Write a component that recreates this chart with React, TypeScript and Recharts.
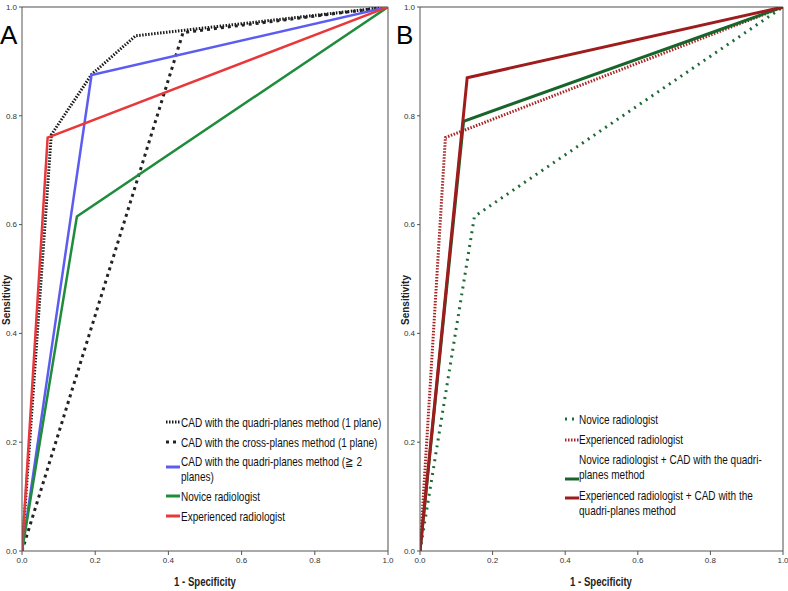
import { LineChart, Line, XAxis, YAxis, ReferenceLine } from 'recharts';

// axis ticks shared by both panels
const ticks = [0, 0.2, 0.4, 0.6, 0.8, 1];

// Panel A: ROC points (1 - specificity, sensitivity)
const quadri1X = [0, 0.08, 0.19, 0.31, 1];
const quadri1Y = [0, 0.765, 0.876, 0.947, 1];
const crossX = [0, 0.44, 1];
const crossY = [0, 0.953, 1];
const quadri2X = [0, 0.19, 1];
const quadri2Y = [0, 0.875, 1];
const noviceX = [0, 0.15, 1];
const noviceY = [0, 0.615, 1];
const expertX = [0, 0.07, 1];
const expertY = [0, 0.76, 1];

// Panel B
const noviceCadX = [0, 0.12, 1];
const noviceCadY = [0, 0.79, 1];
const expertCadX = [0, 0.13, 1];
const expertCadY = [0, 0.87, 1];

const toPts = (xs: number[], ys: number[]) => xs.map((x, i) => ({ x, y: ys[i] }));

const seriesA = [
  { name: 'CAD with the quadri-planes method (1 plane)', data: toPts(quadri1X, quadri1Y), color: '#1a1a1a', width: 3, dash: '1.5 1.5' },
  { name: 'CAD with the cross-planes method (1 plane)', data: toPts(crossX, crossY), color: '#222', width: 3, dash: '3 4' },
  { name: 'CAD with the quadri-planes method (\u2267 2 planes)', data: toPts(quadri2X, quadri2Y), color: '#5c5cf2', width: 2.5, dash: undefined },
  { name: 'Novice radiologist', data: toPts(noviceX, noviceY), color: '#1f8c3c', width: 2.5, dash: undefined },
  { name: 'Experienced radiologist', data: toPts(expertX, expertY), color: '#e8383c', width: 2.5, dash: undefined },
];

const seriesB = [
  { name: 'Novice radiologist', data: toPts(noviceX, noviceY), color: '#1e6a36', width: 3, dash: '2 5' },
  { name: 'Experienced radiologist', data: toPts(expertX, expertY), color: '#a82424', width: 3, dash: '1.5 1.5' },
  { name: 'Novice radiologist + CAD with the quadri-planes method', data: toPts(noviceCadX, noviceCadY), color: '#17652b', width: 3, dash: undefined },
  { name: 'Experienced radiologist + CAD with the quadri-planes method', data: toPts(expertCadX, expertCadY), color: '#9e1c1c', width: 3, dash: undefined },
];

const sans = '"Liberation Sans", Arial, sans-serif';
const tickStyle = { fontSize: 8, fill: '#333', fontFamily: sans };

function Panel({ series, width }: { series: any[]; width: number }) {
  return (
    <LineChart width={width} height={591} margin={{ top: 7, right: width === 395 ? 7 : 5, bottom: 0, left: 0 }}>
      <XAxis
        type="number"
        dataKey="x"
        domain={[0, 1]}
        ticks={ticks}
        tickFormatter={(v: number) => v.toFixed(1)}
        height={40}
        stroke="#555"
        tickSize={4}
        tick={tickStyle}
        allowDataOverflow
      />
      <YAxis
        type="number"
        dataKey="y"
        domain={[0, 1]}
        ticks={ticks}
        tickFormatter={(v: number) => v.toFixed(1)}
        width={22}
        stroke="#555"
        tickSize={3}
        tick={tickStyle}
        allowDataOverflow
      />
      <ReferenceLine y={1} stroke="#888" strokeWidth={1.5} />
      <ReferenceLine x={1} stroke="#888" strokeWidth={1.5} />
      {series.map((s) => (
        <Line
          key={s.name}
          data={s.data}
          dataKey="y"
          type="linear"
          stroke={s.color}
          strokeWidth={s.width}
          strokeDasharray={s.dash}
          dot={false}
          activeDot={false}
          isAnimationActive={false}
        />
      ))}
    </LineChart>
  );
}

function Swatch({ color, dash, top, left }: { color: string; dash?: string; top: number; left: number }) {
  return (
    <svg style={{ position: 'absolute', left, top: top - 2, width: 14, height: 4 }}>
      <line x1={0} y1={2} x2={14} y2={2} stroke={color} strokeWidth={3} strokeDasharray={dash} />
    </svg>
  );
}

// condensed look: the narrow face is not installed, so squeeze the regular one
const legendText = {
  position: 'absolute' as const,
  fontFamily: sans,
  fontSize: 13,
  color: '#111',
  lineHeight: '15px',
  whiteSpace: 'nowrap' as const,
  transform: 'scaleX(0.77)',
  transformOrigin: 'left top',
};
const axisTitle = { position: 'absolute' as const, fontFamily: sans, fontWeight: 700, color: '#222', whiteSpace: 'nowrap' as const };

export default function App() {
  const rowsA = [
    { top: 415, sw: 422, lines: ['CAD with the quadri-planes method (1 plane)'] },
    { top: 435, sw: 442, lines: ['CAD with the cross-planes method (1 plane)'] },
    { top: 454, sw: 467, lines: ['CAD with the quadri-planes method (\u2267 2', 'planes)'] },
    { top: 489, sw: 496, lines: ['Novice radiologist'] },
    { top: 509, sw: 516, lines: ['Experienced radiologist'] },
  ];
  const rowsB = [
    { top: 412, sw: 419, lines: ['Novice radiologist'] },
    { top: 432, sw: 440, lines: ['Experienced radiologist'] },
    { top: 452, sw: 479, lines: ['Novice radiologist + CAD with the quadri-', 'planes method'] },
    { top: 488, sw: 498, lines: ['Experienced radiologist + CAD with the', 'quadri-planes method'] },
  ];
  return (
    <div style={{ position: 'absolute', left: 0, top: 0, width: 788, height: 591, background: '#fff', overflow: 'hidden' }}>
      <div style={{ position: 'absolute', left: 0, top: 0 }}>
        <Panel series={seriesA} width={395} />
      </div>
      <div style={{ position: 'absolute', left: 398, top: 0 }}>
        <Panel series={seriesB} width={390} />
      </div>

      <div style={{ ...axisTitle, left: 0, top: 20, fontSize: 26, fontWeight: 400, color: '#000' }}>A</div>
      <div style={{ ...axisTitle, left: 396, top: 20, fontSize: 26, fontWeight: 400, color: '#000' }}>B</div>

      <div style={{ ...axisTitle, left: 6, top: 300, fontSize: 10, transform: 'translate(-50%, -50%) rotate(-90deg)' }}>Sensitivity</div>
      <div style={{ ...axisTitle, left: 405, top: 300, fontSize: 10, transform: 'translate(-50%, -50%) rotate(-90deg)' }}>Sensitivity</div>
      <div style={{ ...axisTitle, left: 205, top: 575, fontSize: 12, transform: 'translateX(-50%) scaleX(0.8)' }}>1 - Specificity</div>
      <div style={{ ...axisTitle, left: 601, top: 575, fontSize: 12, transform: 'translateX(-50%) scaleX(0.8)' }}>1 - Specificity</div>

      {rowsA.map((r, i) => (
        <div key={'a' + i}>
          <Swatch color={seriesA[i].color} dash={seriesA[i].dash} top={r.sw} left={166} />
          <div style={{ ...legendText, left: 181, top: r.top }}>
            {r.lines.map((l) => (
              <div key={l}>{l}</div>
            ))}
          </div>
        </div>
      ))}
      {rowsB.map((r, i) => (
        <div key={'b' + i}>
          <Swatch color={seriesB[i].color} dash={seriesB[i].dash} top={r.sw} left={565} />
          <div style={{ ...legendText, left: 579, top: r.top }}>
            {r.lines.map((l) => (
              <div key={l}>{l}</div>
            ))}
          </div>
        </div>
      ))}
    </div>
  );
}
